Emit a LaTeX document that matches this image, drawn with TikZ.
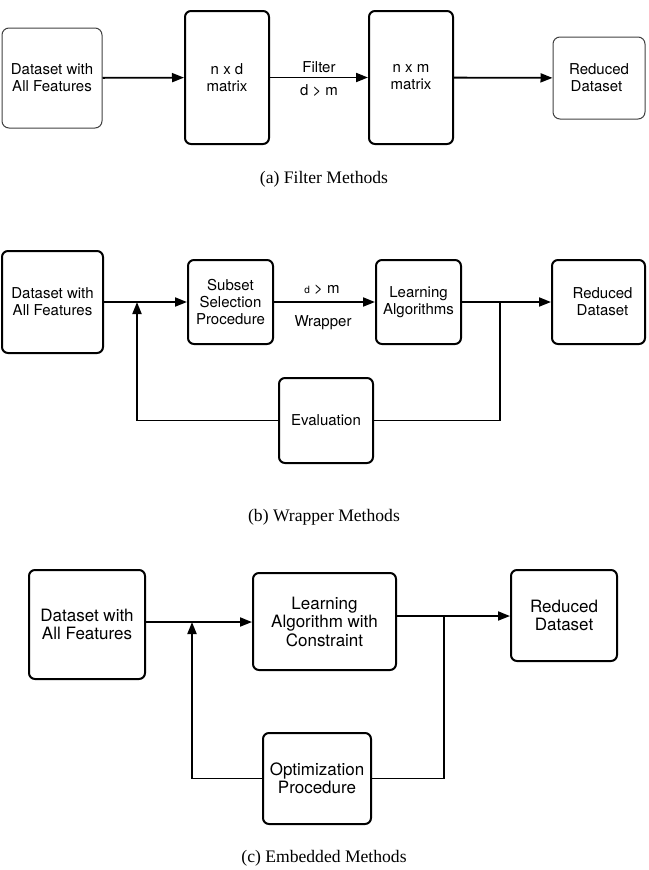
\documentclass[tikz,border=0pt]{standalone}
\usepackage{fontspec}
\setmainfont{Liberation Serif}
\newfontfamily\boxfont{TeX Gyre Heros}
\usetikzlibrary{arrows.meta}
\begin{document}
\begin{tikzpicture}[x=1pt,y=-1pt,
  thickbox/.style={draw=black, line width=2pt, rounded corners=6pt, inner sep=0pt, align=center},
  thinbox/.style={draw=black!75, line width=1pt, rounded corners=7pt, inner sep=0pt, align=center},
  fa/.style={font=\boxfont\fontsize{15}{17}\selectfont},
  fc/.style={font=\boxfont\fontsize{17}{18.5}\selectfont},
  conn/.style={line width=1.8pt},
  arr/.style={conn, -{Triangle[length=12pt,width=9pt]}},
  captext/.style={font=\fontsize{17.6}{20}\selectfont}
]
\useasboundingbox (0,0) rectangle (648,870);

% (a) Filter
\node[thinbox, fa, minimum width=100pt, minimum height=100pt] (a1) at (52,78) {Dataset with\\All Features};
\node[thickbox, fa, minimum width=84pt, minimum height=133pt] (a2) at (227,77.5) {n x d\\matrix};
\node[thickbox, fa, minimum width=84pt, minimum height=133pt] (a3) at (411,77.5) {n x m\\matrix};
\node[thinbox, fa, minimum width=92pt, minimum height=82pt] (a4) at (599,78) {\raisebox{-5pt}{Reduced}\\\raisebox{-5pt}{Dataset}\hspace*{5pt}};
\draw[arr] (a1) -- (a2);
\draw[arr] (a2) -- node[above=1pt, fa] (afl) {Filter} node[below=3pt, fa] (adm) {d > m} (a3);
\draw[arr] (a3) -- (a4);
\node[captext] (acap) at (324,179) {(a) Filter Methods};

% (b) Wrapper
\node[thickbox, fa, minimum width=101pt, minimum height=102pt] (b1) at (52.5,302) {Dataset with\\All Features};
\node[thickbox, fa, minimum width=85pt, minimum height=84pt] (b2) at (230.5,302) {Subset\\Selection\\Procedure};
\node[thickbox, fa, minimum width=85pt, minimum height=84pt] (b3) at (418.5,302) {Learning\\Algorithms};
\node[thickbox, fa, minimum width=93pt, minimum height=84pt] (b4) at (598.5,302) {\hspace*{8pt}Reduced\\\hspace*{8pt}Dataset};
\node[thickbox, fa, minimum width=94pt, minimum height=85pt] (b5) at (326,420.5) {Evaluation};
\coordinate (bj1) at (137,302);
\coordinate (bj2) at (500,302);
\draw[arr] (b1) -- (b2);
\draw[arr] (b2) -- (b3);
\draw[arr] (b3) -- (b4);
\draw[conn] (b5.east) -| (bj2);
\draw[arr] (b5.west) -| (bj1);
\node[font=\boxfont\fontsize{15}{16}\selectfont] (bdm) at (322,290) {{\fontsize{10}{12}\selectfont d} > m};
\node[fa] (bwr) at (323,323) {Wrapper};
\node[captext] (bcap) at (324,517) {(b) Wrapper Methods};

% (c) Embedded
\node[thickbox, fc, minimum width=116pt, minimum height=109pt] (c1) at (87,624.5) {Dataset with\\All Features};
\node[thickbox, fc, minimum width=143pt, minimum height=97pt] (c2) at (324.5,621.5) {Learning\\Algorithm with\\Constraint};
\node[thickbox, fc, minimum width=106pt, minimum height=91pt] (c3) at (564,615.5) {Reduced\\Dataset};
\node[thickbox, fc, minimum width=108pt, minimum height=91pt] (c4) at (317,778.5) {Optimization\\Procedure};
\coordinate (cj1) at (192,622);
\coordinate (cj2) at (444,616);
\draw[arr] (c1.east |- cj1) -- (c2.west |- cj1);
\draw[arr] (c2.east |- cj2) -- (c3.west |- cj2);
\draw[conn] (c4.east) -| (cj2);
\draw[arr] (c4.west) -| (cj1);
\node[captext] (ccap) at (324,858) {(c) Embedded Methods};
\end{tikzpicture}
\end{document}
